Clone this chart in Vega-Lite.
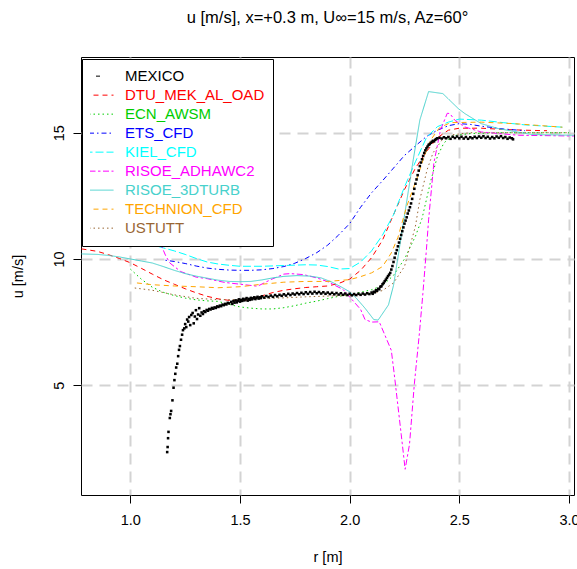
{
"$schema": "https://vega.github.io/schema/vega-lite/v6.json",
"width": 493, "height": 438,
"autosize": {"type": "none"},
"padding": {"left": 81, "top": 57, "right": 3, "bottom": 74},
"background": "white",
"title": {"text": "u [m/s], x=+0.3 m, U∞=15 m/s, Az=60°", "font": "Liberation Sans", "fontSize": 16.5, "fontWeight": "normal", "color": "black", "anchor": "middle", "baseline": "middle", "offset": 23},
"datasets": {
"models": [
{"series":"DTU_MEK_AL_OAD","r":0.777,"u":10.40},{"series":"DTU_MEK_AL_OAD","r":0.85,"u":10.30},{"series":"DTU_MEK_AL_OAD","r":0.90,"u":10.17},{"series":"DTU_MEK_AL_OAD","r":0.95,"u":10.02},{"series":"DTU_MEK_AL_OAD","r":1.00,"u":9.85},{"series":"DTU_MEK_AL_OAD","r":1.05,"u":9.63},{"series":"DTU_MEK_AL_OAD","r":1.10,"u":9.40},{"series":"DTU_MEK_AL_OAD","r":1.15,"u":9.18},{"series":"DTU_MEK_AL_OAD","r":1.20,"u":9.00},{"series":"DTU_MEK_AL_OAD","r":1.25,"u":8.82},{"series":"DTU_MEK_AL_OAD","r":1.30,"u":8.66},{"series":"DTU_MEK_AL_OAD","r":1.35,"u":8.52},{"series":"DTU_MEK_AL_OAD","r":1.40,"u":8.42},{"series":"DTU_MEK_AL_OAD","r":1.45,"u":8.36},{"series":"DTU_MEK_AL_OAD","r":1.50,"u":8.34},{"series":"DTU_MEK_AL_OAD","r":1.55,"u":8.40},{"series":"DTU_MEK_AL_OAD","r":1.60,"u":8.54},{"series":"DTU_MEK_AL_OAD","r":1.65,"u":8.67},{"series":"DTU_MEK_AL_OAD","r":1.70,"u":8.76},{"series":"DTU_MEK_AL_OAD","r":1.75,"u":8.82},{"series":"DTU_MEK_AL_OAD","r":1.80,"u":8.87},{"series":"DTU_MEK_AL_OAD","r":1.85,"u":8.90},{"series":"DTU_MEK_AL_OAD","r":1.90,"u":8.93},{"series":"DTU_MEK_AL_OAD","r":1.95,"u":9.03},{"series":"DTU_MEK_AL_OAD","r":2.00,"u":9.20},{"series":"DTU_MEK_AL_OAD","r":2.05,"u":9.55},{"series":"DTU_MEK_AL_OAD","r":2.10,"u":10.05},{"series":"DTU_MEK_AL_OAD","r":2.15,"u":10.75},{"series":"DTU_MEK_AL_OAD","r":2.20,"u":11.75},{"series":"DTU_MEK_AL_OAD","r":2.25,"u":12.75},{"series":"DTU_MEK_AL_OAD","r":2.30,"u":13.60},{"series":"DTU_MEK_AL_OAD","r":2.35,"u":14.25},{"series":"DTU_MEK_AL_OAD","r":2.40,"u":14.80},{"series":"DTU_MEK_AL_OAD","r":2.45,"u":15.10},{"series":"DTU_MEK_AL_OAD","r":2.50,"u":15.18},{"series":"DTU_MEK_AL_OAD","r":2.60,"u":15.18},{"series":"DTU_MEK_AL_OAD","r":2.70,"u":15.13},{"series":"DTU_MEK_AL_OAD","r":2.80,"u":15.10},{"series":"DTU_MEK_AL_OAD","r":2.90,"u":15.08},
{"series":"ECN_AWSM","r":1.00,"u":9.60},{"series":"ECN_AWSM","r":1.05,"u":9.20},{"series":"ECN_AWSM","r":1.10,"u":8.88},{"series":"ECN_AWSM","r":1.15,"u":8.68},{"series":"ECN_AWSM","r":1.20,"u":8.55},{"series":"ECN_AWSM","r":1.25,"u":8.45},{"series":"ECN_AWSM","r":1.30,"u":8.38},{"series":"ECN_AWSM","r":1.35,"u":8.34},{"series":"ECN_AWSM","r":1.40,"u":8.32},{"series":"ECN_AWSM","r":1.45,"u":8.20},{"series":"ECN_AWSM","r":1.50,"u":8.10},{"series":"ECN_AWSM","r":1.55,"u":8.05},{"series":"ECN_AWSM","r":1.60,"u":8.02},{"series":"ECN_AWSM","r":1.65,"u":8.02},{"series":"ECN_AWSM","r":1.70,"u":8.07},{"series":"ECN_AWSM","r":1.75,"u":8.15},{"series":"ECN_AWSM","r":1.80,"u":8.25},{"series":"ECN_AWSM","r":1.85,"u":8.33},{"series":"ECN_AWSM","r":1.90,"u":8.43},{"series":"ECN_AWSM","r":1.95,"u":8.52},{"series":"ECN_AWSM","r":2.00,"u":8.60},{"series":"ECN_AWSM","r":2.05,"u":8.68},{"series":"ECN_AWSM","r":2.10,"u":8.78},{"series":"ECN_AWSM","r":2.15,"u":8.95},{"series":"ECN_AWSM","r":2.20,"u":9.35},{"series":"ECN_AWSM","r":2.25,"u":10.00},{"series":"ECN_AWSM","r":2.30,"u":10.90},{"series":"ECN_AWSM","r":2.33,"u":11.60},{"series":"ECN_AWSM","r":2.37,"u":13.10},{"series":"ECN_AWSM","r":2.40,"u":14.06},{"series":"ECN_AWSM","r":2.43,"u":14.60},{"series":"ECN_AWSM","r":2.47,"u":14.88},{"series":"ECN_AWSM","r":2.55,"u":14.97},{"series":"ECN_AWSM","r":2.70,"u":15.00},{"series":"ECN_AWSM","r":3.00,"u":15.00},
{"series":"ETS_CFD","r":1.16,"u":9.95},{"series":"ETS_CFD","r":1.20,"u":9.90},{"series":"ETS_CFD","r":1.25,"u":9.82},{"series":"ETS_CFD","r":1.30,"u":9.72},{"series":"ETS_CFD","r":1.35,"u":9.64},{"series":"ETS_CFD","r":1.40,"u":9.59},{"series":"ETS_CFD","r":1.45,"u":9.56},{"series":"ETS_CFD","r":1.50,"u":9.55},{"series":"ETS_CFD","r":1.55,"u":9.55},{"series":"ETS_CFD","r":1.60,"u":9.57},{"series":"ETS_CFD","r":1.65,"u":9.62},{"series":"ETS_CFD","r":1.70,"u":9.70},{"series":"ETS_CFD","r":1.75,"u":9.83},{"series":"ETS_CFD","r":1.80,"u":10.02},{"series":"ETS_CFD","r":1.85,"u":10.25},{"series":"ETS_CFD","r":1.90,"u":10.55},{"series":"ETS_CFD","r":1.95,"u":10.95},{"series":"ETS_CFD","r":2.00,"u":11.40},{"series":"ETS_CFD","r":2.05,"u":12.05},{"series":"ETS_CFD","r":2.10,"u":12.62},{"series":"ETS_CFD","r":2.15,"u":13.10},{"series":"ETS_CFD","r":2.20,"u":13.60},{"series":"ETS_CFD","r":2.25,"u":14.10},{"series":"ETS_CFD","r":2.30,"u":14.48},{"series":"ETS_CFD","r":2.35,"u":14.85},{"series":"ETS_CFD","r":2.40,"u":15.10},{"series":"ETS_CFD","r":2.45,"u":15.28},{"series":"ETS_CFD","r":2.50,"u":15.36},{"series":"ETS_CFD","r":2.55,"u":15.33},{"series":"ETS_CFD","r":2.60,"u":15.26},{"series":"ETS_CFD","r":2.70,"u":15.15},{"series":"ETS_CFD","r":2.80,"u":15.08},
{"series":"KIEL_CFD","r":0.80,"u":11.60},{"series":"KIEL_CFD","r":0.90,"u":11.20},{"series":"KIEL_CFD","r":0.97,"u":10.85},{"series":"KIEL_CFD","r":1.00,"u":10.76},{"series":"KIEL_CFD","r":1.05,"u":10.68},{"series":"KIEL_CFD","r":1.10,"u":10.56},{"series":"KIEL_CFD","r":1.15,"u":10.44},{"series":"KIEL_CFD","r":1.20,"u":10.32},{"series":"KIEL_CFD","r":1.25,"u":10.18},{"series":"KIEL_CFD","r":1.30,"u":10.02},{"series":"KIEL_CFD","r":1.35,"u":9.88},{"series":"KIEL_CFD","r":1.40,"u":9.80},{"series":"KIEL_CFD","r":1.45,"u":9.75},{"series":"KIEL_CFD","r":1.50,"u":9.71},{"series":"KIEL_CFD","r":1.60,"u":9.71},{"series":"KIEL_CFD","r":1.70,"u":9.74},{"series":"KIEL_CFD","r":1.80,"u":9.77},{"series":"KIEL_CFD","r":1.85,"u":9.76},{"series":"KIEL_CFD","r":1.90,"u":9.70},{"series":"KIEL_CFD","r":1.95,"u":9.60},{"series":"KIEL_CFD","r":2.00,"u":9.62},{"series":"KIEL_CFD","r":2.05,"u":9.88},{"series":"KIEL_CFD","r":2.10,"u":10.32},{"series":"KIEL_CFD","r":2.15,"u":10.95},{"series":"KIEL_CFD","r":2.20,"u":11.75},{"series":"KIEL_CFD","r":2.25,"u":12.85},{"series":"KIEL_CFD","r":2.30,"u":13.85},{"series":"KIEL_CFD","r":2.35,"u":14.80},{"series":"KIEL_CFD","r":2.40,"u":15.24},{"series":"KIEL_CFD","r":2.45,"u":15.42},{"series":"KIEL_CFD","r":2.50,"u":15.54},{"series":"KIEL_CFD","r":2.60,"u":15.50},{"series":"KIEL_CFD","r":2.70,"u":15.40},{"series":"KIEL_CFD","r":2.80,"u":15.31},{"series":"KIEL_CFD","r":2.97,"u":15.22},
{"series":"RISOE_ADHAWC2","r":0.80,"u":11.60},{"series":"RISOE_ADHAWC2","r":0.90,"u":11.20},{"series":"RISOE_ADHAWC2","r":0.97,"u":10.85},{"series":"RISOE_ADHAWC2","r":1.00,"u":10.76},{"series":"RISOE_ADHAWC2","r":1.05,"u":10.66},{"series":"RISOE_ADHAWC2","r":1.10,"u":10.60},{"series":"RISOE_ADHAWC2","r":1.14,"u":10.56},{"series":"RISOE_ADHAWC2","r":1.16,"u":10.15},{"series":"RISOE_ADHAWC2","r":1.18,"u":9.84},{"series":"RISOE_ADHAWC2","r":1.23,"u":9.50},{"series":"RISOE_ADHAWC2","r":1.30,"u":9.28},{"series":"RISOE_ADHAWC2","r":1.35,"u":9.22},{"series":"RISOE_ADHAWC2","r":1.43,"u":9.07},{"series":"RISOE_ADHAWC2","r":1.50,"u":9.00},{"series":"RISOE_ADHAWC2","r":1.58,"u":8.92},{"series":"RISOE_ADHAWC2","r":1.64,"u":9.18},{"series":"RISOE_ADHAWC2","r":1.70,"u":9.40},{"series":"RISOE_ADHAWC2","r":1.73,"u":9.42},{"series":"RISOE_ADHAWC2","r":1.79,"u":9.38},{"series":"RISOE_ADHAWC2","r":1.85,"u":9.25},{"series":"RISOE_ADHAWC2","r":1.90,"u":9.10},{"series":"RISOE_ADHAWC2","r":1.97,"u":8.79},{"series":"RISOE_ADHAWC2","r":2.02,"u":8.30},{"series":"RISOE_ADHAWC2","r":2.05,"u":8.00},{"series":"RISOE_ADHAWC2","r":2.07,"u":7.60},{"series":"RISOE_ADHAWC2","r":2.10,"u":7.50},{"series":"RISOE_ADHAWC2","r":2.135,"u":7.51},{"series":"RISOE_ADHAWC2","r":2.19,"u":6.38},{"series":"RISOE_ADHAWC2","r":2.205,"u":5.32},{"series":"RISOE_ADHAWC2","r":2.235,"u":3.06},{"series":"RISOE_ADHAWC2","r":2.253,"u":1.67},{"series":"RISOE_ADHAWC2","r":2.273,"u":2.66},{"series":"RISOE_ADHAWC2","r":2.295,"u":5.05},{"series":"RISOE_ADHAWC2","r":2.318,"u":7.05},{"series":"RISOE_ADHAWC2","r":2.334,"u":8.64},{"series":"RISOE_ADHAWC2","r":2.35,"u":10.37},{"series":"RISOE_ADHAWC2","r":2.36,"u":11.55},{"series":"RISOE_ADHAWC2","r":2.384,"u":13.80},{"series":"RISOE_ADHAWC2","r":2.414,"u":15.10},{"series":"RISOE_ADHAWC2","r":2.445,"u":15.77},{"series":"RISOE_ADHAWC2","r":2.457,"u":15.76},{"series":"RISOE_ADHAWC2","r":2.48,"u":15.49},{"series":"RISOE_ADHAWC2","r":2.525,"u":15.23},{"series":"RISOE_ADHAWC2","r":2.60,"u":15.03},{"series":"RISOE_ADHAWC2","r":2.77,"u":14.90},{"series":"RISOE_ADHAWC2","r":3.023,"u":14.87},
{"series":"RISOE_3DTURB","r":0.777,"u":10.20},{"series":"RISOE_3DTURB","r":0.85,"u":10.18},{"series":"RISOE_3DTURB","r":0.90,"u":10.14},{"series":"RISOE_3DTURB","r":0.95,"u":10.08},{"series":"RISOE_3DTURB","r":1.00,"u":10.00},{"series":"RISOE_3DTURB","r":1.05,"u":9.92},{"series":"RISOE_3DTURB","r":1.10,"u":9.84},{"series":"RISOE_3DTURB","r":1.15,"u":9.70},{"series":"RISOE_3DTURB","r":1.20,"u":9.55},{"series":"RISOE_3DTURB","r":1.25,"u":9.42},{"series":"RISOE_3DTURB","r":1.30,"u":9.32},{"series":"RISOE_3DTURB","r":1.35,"u":9.24},{"series":"RISOE_3DTURB","r":1.40,"u":9.16},{"series":"RISOE_3DTURB","r":1.45,"u":9.11},{"series":"RISOE_3DTURB","r":1.50,"u":9.10},{"series":"RISOE_3DTURB","r":1.55,"u":9.11},{"series":"RISOE_3DTURB","r":1.60,"u":9.17},{"series":"RISOE_3DTURB","r":1.65,"u":9.25},{"series":"RISOE_3DTURB","r":1.70,"u":9.31},{"series":"RISOE_3DTURB","r":1.76,"u":9.34},{"series":"RISOE_3DTURB","r":1.82,"u":9.32},{"series":"RISOE_3DTURB","r":1.87,"u":9.25},{"series":"RISOE_3DTURB","r":1.92,"u":9.08},{"series":"RISOE_3DTURB","r":1.96,"u":8.90},{"series":"RISOE_3DTURB","r":2.00,"u":8.70},{"series":"RISOE_3DTURB","r":2.03,"u":8.45},{"series":"RISOE_3DTURB","r":2.07,"u":8.05},{"series":"RISOE_3DTURB","r":2.11,"u":7.60},{"series":"RISOE_3DTURB","r":2.13,"u":7.58},{"series":"RISOE_3DTURB","r":2.177,"u":8.18},{"series":"RISOE_3DTURB","r":2.20,"u":8.95},{"series":"RISOE_3DTURB","r":2.29,"u":13.93},{"series":"RISOE_3DTURB","r":2.32,"u":15.50},{"series":"RISOE_3DTURB","r":2.36,"u":16.63},{"series":"RISOE_3DTURB","r":2.425,"u":16.55},{"series":"RISOE_3DTURB","r":2.495,"u":15.96},{"series":"RISOE_3DTURB","r":2.525,"u":15.76},{"series":"RISOE_3DTURB","r":2.60,"u":15.36},{"series":"RISOE_3DTURB","r":2.68,"u":15.16},{"series":"RISOE_3DTURB","r":2.83,"u":14.93},{"series":"RISOE_3DTURB","r":3.023,"u":14.90},
{"series":"TECHNION_CFD","r":1.03,"u":9.05},{"series":"TECHNION_CFD","r":1.10,"u":8.98},{"series":"TECHNION_CFD","r":1.20,"u":8.93},{"series":"TECHNION_CFD","r":1.30,"u":8.90},{"series":"TECHNION_CFD","r":1.40,"u":8.86},{"series":"TECHNION_CFD","r":1.50,"u":8.90},{"series":"TECHNION_CFD","r":1.60,"u":9.00},{"series":"TECHNION_CFD","r":1.70,"u":9.08},{"series":"TECHNION_CFD","r":1.80,"u":9.11},{"series":"TECHNION_CFD","r":1.90,"u":9.11},{"series":"TECHNION_CFD","r":2.00,"u":9.18},{"series":"TECHNION_CFD","r":2.05,"u":9.30},{"series":"TECHNION_CFD","r":2.10,"u":9.45},{"series":"TECHNION_CFD","r":2.15,"u":9.70},{"series":"TECHNION_CFD","r":2.19,"u":10.24},{"series":"TECHNION_CFD","r":2.22,"u":10.85},{"series":"TECHNION_CFD","r":2.26,"u":12.08},{"series":"TECHNION_CFD","r":2.31,"u":13.27},{"series":"TECHNION_CFD","r":2.34,"u":14.06},{"series":"TECHNION_CFD","r":2.37,"u":14.72},{"series":"TECHNION_CFD","r":2.41,"u":15.20},{"series":"TECHNION_CFD","r":2.46,"u":15.40},{"series":"TECHNION_CFD","r":2.60,"u":15.42},{"series":"TECHNION_CFD","r":2.75,"u":15.36},{"series":"TECHNION_CFD","r":2.97,"u":15.22},
{"series":"USTUTT","r":1.02,"u":8.85},{"series":"USTUTT","r":1.10,"u":8.76},{"series":"USTUTT","r":1.20,"u":8.58},{"series":"USTUTT","r":1.30,"u":8.44},{"series":"USTUTT","r":1.40,"u":8.39},{"series":"USTUTT","r":1.50,"u":8.39},{"series":"USTUTT","r":1.60,"u":8.43},{"series":"USTUTT","r":1.70,"u":8.46},{"series":"USTUTT","r":1.80,"u":8.50},{"series":"USTUTT","r":1.90,"u":8.53},{"series":"USTUTT","r":2.00,"u":8.55},{"series":"USTUTT","r":2.10,"u":8.62},{"series":"USTUTT","r":2.15,"u":8.75},{"series":"USTUTT","r":2.20,"u":9.05},{"series":"USTUTT","r":2.25,"u":9.70},{"series":"USTUTT","r":2.30,"u":11.30},{"series":"USTUTT","r":2.32,"u":12.35},{"series":"USTUTT","r":2.353,"u":13.53},{"series":"USTUTT","r":2.38,"u":14.20},{"series":"USTUTT","r":2.42,"u":14.70},{"series":"USTUTT","r":2.47,"u":14.92},{"series":"USTUTT","r":2.55,"u":15.00},{"series":"USTUTT","r":3.00,"u":15.00}
],
"mexico": [
{"r":1.168,"u":2.35},{"r":1.170,"u":2.55},{"r":1.172,"u":2.90},{"r":1.174,"u":3.15},{"r":1.180,"u":3.70},{"r":1.183,"u":3.85},{"r":1.186,"u":3.98},{"r":1.192,"u":4.40},{"r":1.197,"u":4.90},{"r":1.201,"u":5.20},{"r":1.205,"u":5.45},{"r":1.209,"u":5.70},{"r":1.214,"u":5.85},{"r":1.218,"u":6.15},{"r":1.222,"u":6.40},{"r":1.226,"u":6.55},{"r":1.231,"u":6.80},{"r":1.236,"u":7.00},{"r":1.240,"u":7.18},{"r":1.246,"u":7.25},{"r":1.250,"u":7.42},{"r":1.255,"u":7.30},{"r":1.259,"u":7.60},{"r":1.264,"u":7.52},{"r":1.268,"u":7.70},{"r":1.273,"u":7.38},{"r":1.278,"u":7.78},{"r":1.284,"u":7.86},{"r":1.289,"u":7.45},{"r":1.294,"u":7.72},{"r":1.299,"u":7.97},{"r":1.304,"u":7.62},{"r":1.309,"u":7.80},{"r":1.314,"u":8.05},{"r":1.319,"u":7.75},{"r":1.325,"u":7.88},{"r":1.331,"u":7.82},{"r":1.336,"u":7.93},{"r":1.342,"u":7.90},{"r":1.348,"u":7.98},{"r":1.354,"u":7.95},{"r":1.360,"u":8.02},{"r":1.366,"u":8.00},{"r":1.372,"u":8.06},{"r":1.378,"u":8.03},{"r":1.384,"u":8.08},{"r":1.390,"u":8.06},{"r":1.396,"u":8.12},{"r":1.402,"u":8.10},{"r":1.408,"u":8.15},{"r":1.414,"u":8.13},{"r":1.420,"u":8.19},{"r":1.426,"u":8.17},{"r":1.432,"u":8.22},{"r":1.438,"u":8.20},{"r":1.444,"u":8.26},{"r":1.450,"u":8.24},
{"r":1.460,"u":8.30},{"r":1.465,"u":8.22},{"r":1.470,"u":8.33},{"r":1.475,"u":8.27},{"r":1.480,"u":8.36},{"r":1.485,"u":8.28},{"r":1.490,"u":8.34},{"r":1.495,"u":8.40},{"r":1.500,"u":8.31},{"r":1.505,"u":8.38},{"r":1.510,"u":8.34},{"r":1.515,"u":8.42},{"r":1.520,"u":8.36},{"r":1.525,"u":8.40},{"r":1.530,"u":8.45},{"r":1.535,"u":8.35},{"r":1.540,"u":8.42},{"r":1.545,"u":8.38},{"r":1.550,"u":8.46},{"r":1.555,"u":8.40},{"r":1.560,"u":8.44},{"r":1.565,"u":8.48},{"r":1.570,"u":8.41},{"r":1.575,"u":8.46},{"r":1.580,"u":8.50},{"r":1.585,"u":8.43},{"r":1.590,"u":8.48},{"r":1.595,"u":8.45},{"r":1.600,"u":8.52},
{"r":1.61,"u":8.47},{"r":1.62,"u":8.53},{"r":1.63,"u":8.49},{"r":1.64,"u":8.55},{"r":1.65,"u":8.50},{"r":1.66,"u":8.57},{"r":1.67,"u":8.52},{"r":1.68,"u":8.58},{"r":1.69,"u":8.54},{"r":1.70,"u":8.60},{"r":1.71,"u":8.55},{"r":1.72,"u":8.62},{"r":1.73,"u":8.57},{"r":1.74,"u":8.63},{"r":1.75,"u":8.59},{"r":1.76,"u":8.65},{"r":1.77,"u":8.60},{"r":1.78,"u":8.66},{"r":1.79,"u":8.61},{"r":1.80,"u":8.68},{"r":1.81,"u":8.62},{"r":1.82,"u":8.69},{"r":1.83,"u":8.63},{"r":1.84,"u":8.70},{"r":1.85,"u":8.64},{"r":1.86,"u":8.69},{"r":1.87,"u":8.63},{"r":1.88,"u":8.68},{"r":1.89,"u":8.62},{"r":1.90,"u":8.67},{"r":1.91,"u":8.61},{"r":1.92,"u":8.66},{"r":1.93,"u":8.60},{"r":1.94,"u":8.65},{"r":1.95,"u":8.59},{"r":1.96,"u":8.64},{"r":1.97,"u":8.58},{"r":1.98,"u":8.63},{"r":1.99,"u":8.57},{"r":2.00,"u":8.62},{"r":2.01,"u":8.56},{"r":2.02,"u":8.61},{"r":2.03,"u":8.57},{"r":2.04,"u":8.62},{"r":2.05,"u":8.58},{"r":2.06,"u":8.63},{"r":2.07,"u":8.59},{"r":2.08,"u":8.64},{"r":2.09,"u":8.61},{"r":2.10,"u":8.67},
{"r":2.105,"u":8.62},{"r":2.11,"u":8.70},{"r":2.115,"u":8.68},{"r":2.12,"u":8.76},{"r":2.125,"u":8.74},{"r":2.13,"u":8.82},{"r":2.135,"u":8.80},{"r":2.14,"u":8.90},{"r":2.145,"u":8.92},{"r":2.15,"u":9.00},{"r":2.155,"u":9.05},{"r":2.16,"u":9.12},{"r":2.165,"u":9.18},{"r":2.17,"u":9.25},{"r":2.175,"u":9.32},{"r":2.18,"u":9.38},{"r":2.185,"u":9.45},{"r":2.19,"u":9.58},{"r":2.195,"u":9.72},{"r":2.20,"u":9.88},{"r":2.205,"u":10.05},{"r":2.21,"u":10.22},{"r":2.215,"u":10.35},{"r":2.22,"u":10.50},{"r":2.225,"u":10.65},{"r":2.23,"u":10.80},{"r":2.235,"u":10.95},{"r":2.24,"u":11.10},{"r":2.245,"u":11.25},{"r":2.25,"u":11.40},{"r":2.255,"u":11.52},{"r":2.26,"u":11.65},{"r":2.265,"u":11.80},{"r":2.27,"u":11.92},{"r":2.275,"u":12.05},{"r":2.28,"u":12.20},{"r":2.285,"u":12.38},{"r":2.29,"u":12.58},{"r":2.295,"u":12.78},{"r":2.30,"u":12.98},{"r":2.305,"u":13.15},{"r":2.31,"u":13.32},{"r":2.315,"u":13.50},{"r":2.32,"u":13.68},{"r":2.325,"u":13.82},{"r":2.33,"u":13.95},{"r":2.335,"u":14.08},{"r":2.34,"u":14.20},{"r":2.345,"u":14.30},{"r":2.35,"u":14.38},{"r":2.355,"u":14.45},{"r":2.36,"u":14.52},{"r":2.365,"u":14.55},{"r":2.37,"u":14.60},{"r":2.375,"u":14.64},{"r":2.38,"u":14.68},{"r":2.385,"u":14.66},{"r":2.39,"u":14.72},{"r":2.395,"u":14.75},{"r":2.40,"u":14.78},{"r":2.41,"u":14.80},{"r":2.42,"u":14.77},{"r":2.43,"u":14.82},{"r":2.44,"u":14.78},
{"r":2.45,"u":14.83},{"r":2.46,"u":14.76},{"r":2.47,"u":14.84},{"r":2.48,"u":14.79},{"r":2.49,"u":14.85},{"r":2.50,"u":14.78},{"r":2.51,"u":14.84},{"r":2.52,"u":14.77},{"r":2.53,"u":14.83},{"r":2.54,"u":14.76},{"r":2.55,"u":14.82},{"r":2.56,"u":14.78},{"r":2.57,"u":14.84},{"r":2.58,"u":14.79},{"r":2.59,"u":14.85},{"r":2.60,"u":14.80},{"r":2.61,"u":14.86},{"r":2.62,"u":14.79},{"r":2.63,"u":14.84},{"r":2.64,"u":14.77},{"r":2.65,"u":14.83},{"r":2.66,"u":14.78},{"r":2.67,"u":14.85},{"r":2.68,"u":14.80},{"r":2.69,"u":14.86},{"r":2.70,"u":14.79},{"r":2.71,"u":14.83},{"r":2.72,"u":14.76},{"r":2.73,"u":14.81},{"r":2.74,"u":14.78},{"r":2.745,"u":14.74}
]
},
"layer": [
{
"data": {"name": "models"},
"mark": {"type": "line", "strokeWidth": 1, "clip": true},
"encoding": {
"x": {"field": "r", "type": "quantitative", "scale": {"domain": [0.775, 3.023], "nice": false, "zero": false},
"axis": {"values": [1, 1.5, 2, 2.5, 3], "format": ".1f", "title": "r [m]", "titleX": 246.5, "titleY": 62, "titleBaseline": "middle", "titleAlign": "center", "labelPadding": 10}},
"y": {"field": "u", "type": "quantitative", "scale": {"domain": [0.65, 18.0], "nice": false, "zero": false},
"axis": {"values": [5, 10, 15], "title": "u [m/s]", "titleX": -63, "titleY": 219, "titleAngle": 270, "titleBaseline": "middle", "titleAlign": "center", "labelAngle": 270, "labelAlign": "center", "labelBaseline": "bottom", "labelPadding": 7}},
"color": {"field": "series", "type": "nominal",
"scale": {"domain": ["MEXICO","DTU_MEK_AL_OAD","ECN_AWSM","ETS_CFD","KIEL_CFD","RISOE_ADHAWC2","RISOE_3DTURB","TECHNION_CFD","USTUTT"],
"range": ["#000000","#FF0000","#00CD00","#0000FF","#00FFFF","#FF00FF","#48D1CC","#FFA500","#996633"]},
"legend": {"title": null, "orient": "none", "legendX": 1, "legendY": 2}},
"strokeDash": {"field": "series", "type": "nominal",
"scale": {"domain": ["MEXICO","DTU_MEK_AL_OAD","ECN_AWSM","ETS_CFD","KIEL_CFD","RISOE_ADHAWC2","RISOE_3DTURB","TECHNION_CFD","USTUTT"],
"range": [[0,11.5,4,60],[5,4],[1.5,3],[1.5,3,5,3],[8,3],[2.5,2.5,6,2.5],[1,0],[5,4],[1.5,3]]},
"legend": {"title": null, "orient": "none", "legendX": 1, "legendY": 2}}
}
},
{
"data": {"name": "mexico"},
"mark": {"type": "square", "size": 6.5, "color": "black", "opacity": 1, "filled": true, "clip": true},
"encoding": {
"x": {"field": "r", "type": "quantitative", "scale": {"domain": [0.775, 3.023], "nice": false, "zero": false}},
"y": {"field": "u", "type": "quantitative", "scale": {"domain": [0.65, 18.0], "nice": false, "zero": false}}
}
}
],
"config": {
"view": {"stroke": "black", "strokeWidth": 1},
"axis": {"domain": false, "grid": true, "gridColor": "#d3d3d3", "gridDash": [11, 7], "gridWidth": 2, "tickColor": "black", "tickSize": 8, "tickWidth": 1, "labelFont": "Liberation Sans", "labelFontSize": 14.5, "labelColor": "black", "titleFont": "Liberation Sans", "titleFontSize": 14.5, "titleFontWeight": "normal", "titleColor": "black", "labelFlush": false, "labelOverlap": false},
"legend": {"symbolType": "stroke", "symbolSize": 841, "symbolStrokeWidth": 1, "clipHeight": 18.3, "rowPadding": 0, "padding": 8, "symbolOffset": -6, "labelOffset": 11, "labelFont": "Liberation Sans", "labelFontSize": 15, "labelBaseline": "middle", "fillColor": "white", "strokeColor": "black", "cornerRadius": 0,
"labelColor": {"expr": "datum.value == 'DTU_MEK_AL_OAD' ? '#FF0000' : datum.value == 'ECN_AWSM' ? '#00CD00' : datum.value == 'ETS_CFD' ? '#0000FF' : datum.value == 'KIEL_CFD' ? '#00FFFF' : datum.value == 'RISOE_ADHAWC2' ? '#FF00FF' : datum.value == 'RISOE_3DTURB' ? '#48D1CC' : datum.value == 'TECHNION_CFD' ? '#FFA500' : datum.value == 'USTUTT' ? '#996633' : '#000000'"}}
}
}
